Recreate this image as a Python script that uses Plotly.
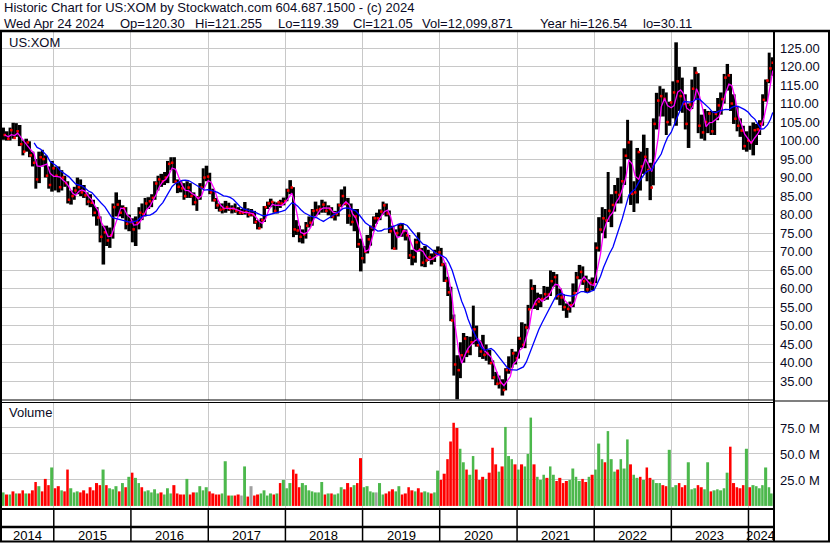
import pandas as pd
import numpy as np
import plotly.graph_objects as go

# ---------------- data (semi-monthly periods, May 2014 - Apr 2024) ----------------
period_start = "2014-05-01"
n_periods = 240
range_end = "2024-04-26"

high = [
    # 2014 (May-Dec)
    103.5, 102.5, 103.5, 104.8, 104.7, 104.2, 100.0, 100.5, 99.8, 97.0, 95.0, 97.0, 97.5, 96.0, 93.0, 94.5,
    # 2015
    93.0, 93.0, 92.0, 90.5, 89.0, 86.5, 87.5, 90.0, 89.5, 88.0, 86.0, 85.5, 84.0, 82.0, 79.5, 77.0, 77.0, 76.5, 83.0, 86.0, 84.0, 82.5, 82.0, 80.0,
    # 2016
    79.0, 79.5, 82.0, 83.0, 84.5, 84.7, 85.5, 89.0, 90.5, 91.0, 91.5, 94.5, 95.5, 95.5, 89.5, 89.0, 88.5, 89.0, 88.5, 86.0, 85.0, 88.5, 92.5, 93.2,
    # 2017
    91.3, 87.0, 84.5, 83.0, 83.0, 83.7, 83.2, 82.5, 83.0, 82.0, 81.5, 83.4, 81.7, 81.5, 81.0, 78.5, 79.0, 82.3, 83.5, 84.3, 83.5, 83.3, 84.0, 84.6,
    # 2018
    87.0, 89.3, 87.4, 78.5, 77.0, 76.0, 78.0, 79.5, 81.5, 83.5, 82.5, 84.0, 83.5, 82.5, 82.0, 81.0, 83.0, 86.8, 87.6, 84.5, 83.0, 81.5, 81.5, 73.5,
    # 2019
    71.5, 74.5, 77.0, 79.5, 80.5, 81.4, 83.5, 83.0, 81.1, 77.0, 76.0, 77.5, 77.7, 76.0, 74.5, 70.5, 73.5, 75.2, 71.0, 71.5, 70.5, 69.5, 70.5, 71.4,
    # 2020
    71.0, 67.0, 63.2, 60.5, 53.0, 42.0, 45.5, 48.0, 47.2, 47.0, 55.4, 50.0, 46.0, 47.5, 44.9, 43.5, 40.6, 37.5, 36.5, 35.5, 38.5, 41.7, 43.7, 43.0,
    # 2021
    47.0, 50.9, 50.5, 55.6, 62.5, 61.0, 58.9, 58.5, 60.7, 60.5, 64.9, 64.5, 63.9, 60.0, 58.5, 56.0, 56.5, 61.4, 64.5, 66.4, 66.0, 63.5, 62.5, 63.0,
    # 2022
    72.5, 79.3, 82.0, 81.5, 91.5, 85.5, 88.0, 89.9, 93.0, 97.9, 105.6, 100.0, 89.0, 98.0, 97.0, 101.6, 98.0, 94.0, 106.0, 112.9, 114.7, 114.0, 113.0, 110.5,
    # 2023
    116.0, 126.54, 119.9, 117.0, 112.5, 110.0, 116.5, 119.9, 118.2, 107.0, 108.5, 108.0, 108.0, 108.0, 111.5, 113.0, 118.0, 120.7, 118.0, 112.5, 109.3, 106.0, 104.0, 102.5,
    # 2024 (Jan-Apr)
    104.0, 104.9, 104.5, 105.5, 112.5, 116.5, 123.75, 122.5,
]

low = [
    100.2, 100.0, 100.0, 100.5, 101.0, 98.5, 96.0, 97.0, 95.5, 93.0, 87.0, 88.5, 93.0, 90.0, 87.0, 86.2,
    86.5, 86.0, 86.5, 87.5, 83.0, 82.7, 84.0, 85.5, 85.0, 84.5, 82.5, 82.0, 79.5, 77.0, 72.5, 66.5, 71.5, 71.0, 73.5, 79.5, 79.5, 79.0, 76.0, 75.5,
    72.5, 71.5, 76.0, 78.5, 79.5, 81.5, 82.0, 84.0, 86.5, 87.5, 88.0, 88.5, 92.0, 88.5, 85.8, 86.0, 84.0, 84.5, 84.5, 82.5, 81.0, 84.0, 87.0, 89.0,
    85.5, 83.5, 81.5, 80.8, 80.3, 80.5, 81.0, 80.3, 80.5, 79.9, 79.9, 80.0, 79.2, 79.5, 77.5, 76.0, 76.3, 78.0, 81.5, 82.0, 80.5, 80.3, 81.8, 82.5,
    83.6, 85.5, 73.9, 74.5, 72.5, 72.2, 73.5, 76.5, 77.0, 79.5, 80.0, 80.5, 80.5, 79.8, 79.0, 78.4, 79.5, 82.0, 82.5, 77.5, 77.0, 75.5, 71.0, 64.65,
    66.8, 69.5, 71.6, 75.5, 77.5, 78.5, 80.0, 79.5, 75.0, 70.6, 70.5, 74.0, 74.0, 73.0, 68.0, 66.3, 67.0, 70.0, 66.0, 65.8, 67.5, 66.5, 67.2, 69.0,
    66.0, 61.8, 58.0, 51.2, 36.5, 30.11, 35.8, 40.0, 41.5, 42.0, 45.0, 44.3, 41.5, 41.0, 40.5, 39.5, 35.5, 33.9, 33.0, 31.1, 32.5, 37.0, 38.6, 39.5,
    41.1, 44.0, 43.9, 49.0, 54.5, 54.5, 54.2, 55.0, 56.7, 57.0, 58.0, 60.5, 57.0, 55.5, 54.0, 52.1, 53.5, 55.0, 59.0, 62.5, 61.0, 59.0, 59.0, 59.5,
    61.5, 70.0, 75.0, 73.6, 78.0, 76.6, 80.8, 83.0, 83.0, 88.0, 95.0, 82.6, 80.7, 83.0, 86.5, 91.0, 89.0, 83.9, 87.9, 103.0, 106.5, 106.5, 101.5, 104.0,
    106.0, 104.0, 108.0, 107.5, 103.0, 98.0, 108.5, 111.0, 102.0, 100.5, 100.0, 102.0, 101.5, 101.5, 105.5, 107.0, 110.0, 113.5, 108.0, 104.5, 102.5, 101.0, 97.5, 97.0,
    97.5, 96.0, 98.8, 101.5, 104.0, 110.5, 115.5, 117.5,
]

close = [
    101.5, 100.5, 102.8, 100.7, 102.5, 99.0, 97.0, 99.5, 96.0, 94.0, 89.5, 95.5, 95.0, 90.5, 88.0, 92.5,
    90.5, 87.4, 90.0, 88.5, 84.0, 85.0, 86.5, 87.4, 86.0, 85.2, 83.5, 83.2, 80.5, 79.2, 74.0, 75.2, 73.0, 74.4, 82.0, 82.7, 80.5, 81.7, 77.5, 77.95,
    76.0, 77.85, 80.5, 80.1, 83.0, 83.6, 84.5, 88.4, 89.5, 89.0, 90.0, 93.7, 94.0, 88.9, 87.5, 87.1, 85.0, 87.3, 85.0, 83.3, 84.5, 87.3, 90.0, 90.26,
    86.0, 83.9, 82.5, 81.3, 81.5, 82.0, 81.5, 81.6, 81.0, 80.5, 80.5, 80.7, 80.0, 80.0, 78.0, 76.3, 78.5, 82.0, 83.0, 83.4, 81.0, 83.3, 83.0, 83.6,
    86.5, 87.3, 76.0, 75.7, 74.0, 74.6, 77.0, 77.8, 81.0, 81.2, 81.5, 82.7, 81.0, 81.5, 79.5, 80.2, 82.5, 85.0, 83.0, 79.7, 78.0, 79.5, 72.0, 68.2,
    70.0, 73.3, 76.5, 79.0, 79.0, 80.8, 82.5, 80.3, 75.5, 70.8, 75.0, 76.6, 75.5, 74.4, 69.0, 68.5, 72.5, 70.6, 67.0, 67.6, 68.5, 68.1, 69.5, 69.8,
    66.5, 62.1, 59.0, 51.4, 39.5, 37.97, 42.0, 46.5, 43.0, 45.5, 49.0, 44.7, 43.0, 42.1, 42.5, 39.9, 36.0, 34.3, 34.5, 32.6, 38.0, 38.1, 42.5, 41.2,
    46.5, 44.8, 49.5, 54.4, 60.0, 55.8, 56.5, 57.2, 58.5, 58.4, 62.0, 63.1, 58.0, 57.6, 55.0, 54.5, 55.5, 58.8, 63.0, 64.5, 62.0, 59.8, 61.5, 61.2,
    71.0, 75.96, 79.0, 78.4, 81.0, 82.6, 86.0, 85.3, 89.0, 95.9, 99.5, 85.6, 86.0, 96.9, 93.0, 95.6, 92.0, 87.3, 104.5, 110.8, 112.0, 111.3, 105.0, 110.3,
    113.0, 116.0, 112.0, 109.9, 104.5, 109.7, 114.0, 118.3, 104.0, 102.2, 105.0, 107.3, 102.5, 107.2, 109.5, 111.2, 117.0, 117.6, 110.0, 105.9, 104.0, 102.7, 98.5, 100.0,
    99.5, 102.8, 103.0, 104.5, 111.0, 116.2, 119.5, 121.05,
]

volume_m = [
    13, 11, 11, 14, 12, 12, 15, 12, 12, 15, 23, 19, 14, 26, 20, 37,
    17, 19, 15, 14, 35, 17, 13, 14, 13, 15, 12, 18, 15, 22, 20, 35, 20, 17, 16, 19, 14, 22, 18, 28,
    32, 27, 22, 18, 14, 15, 13, 16, 12, 13, 11, 17, 12, 20, 12, 11, 11, 26, 11, 13, 13, 19, 15, 18,
    14, 12, 11, 11, 12, 43, 10, 10, 10, 11, 10, 38, 9, 19, 10, 11, 12, 15, 10, 12, 11, 12, 22, 25,
    17, 22, 35, 31, 18, 22, 20, 15, 14, 13, 13, 23, 11, 12, 12, 11, 12, 18, 16, 22, 18, 20, 22, 46,
    18, 19, 14, 13, 13, 22, 11, 12, 14, 16, 14, 19, 11, 12, 18, 15, 14, 17, 13, 14, 13, 12, 13, 34,
    25, 31, 45, 62, 80, 75, 55, 42, 35, 30, 48, 35, 25, 28, 26, 32, 56, 40, 33, 38, 76, 48, 45, 40,
    35, 40, 38, 50, 85, 40, 28, 25, 30, 27, 38, 30, 24, 27, 22, 24, 25, 36, 28, 24, 26, 23, 28, 30,
    35, 60, 45, 42, 72, 45, 33, 35, 45, 36, 64, 40, 30, 27, 28, 25, 37, 27, 25, 22, 22, 20, 19, 54,
    18, 20, 22, 18, 20, 42, 16, 17, 20, 18, 16, 42, 14, 15, 16, 15, 17, 32, 57, 22, 18, 17, 20, 55,
    18, 20, 19, 17, 20, 37, 18, 12,
]

price_ticks = [35, 40, 45, 50, 55, 60, 65, 70, 75, 80, 85, 90, 95, 100, 105, 110, 115, 120, 125]
volume_ticks_m = [25, 50, 75]
years = list(range(2014, 2025))

header_1 = "Historic Chart for US:XOM by Stockwatch.com 604.687.1500 - (c) 2024"
header_2 = ["Wed Apr 24 2024", "Op=120.30", "Hi=121.255", "Lo=119.39", "Cl=121.05",
            "Vol=12,099,871", "Year hi=126.54", "lo=30.11"]

# ---------------- derived ----------------
W, H = 830, 543
def px(x):
    return x / W
def py(y):
    return 1 - y / H

dates = pd.date_range(period_start, periods=n_periods, freq="SMS")
rng_end = pd.Timestamp(range_end)
ends = list(dates[1:]) + [rng_end]
width_ms = [(e - s).total_seconds() * 1000 for s, e in zip(dates, ends)]
end_x = [e - pd.Timedelta(days=1) for e in ends]

hi = np.array(high)
lo = np.array(low)
cl = pd.Series(close)
vol = np.array(volume_m) * 1e6

ma_fast = cl.rolling(3, min_periods=1).mean()     # ~20-day average
ma_slow = cl.rolling(10, min_periods=10).mean()   # ~100-day average

diff = cl.diff().fillna(1.0)
vcolors = ["#4cb84c" if d > 0 else ("#ff0000" if d < 0 else "#a0a0a0") for d in diff]

FONT = "Liberation Sans, Arial, sans-serif"
TXT = "#0a0a24"
GRID = "#c8c8c8"

fig = go.Figure()
fig.add_trace(go.Bar(x=dates, y=hi - lo, base=lo, width=width_ms, offset=0,
                     marker=dict(color="black", line=dict(width=0)),
                     xaxis="x", yaxis="y", hoverinfo="skip"))
fig.add_trace(go.Scatter(x=end_x, y=cl, mode="markers",
                         marker=dict(symbol="square", size=2.5, color="#ff0000", line=dict(width=0)),
                         xaxis="x", yaxis="y", hoverinfo="skip"))
fig.add_trace(go.Scatter(x=end_x, y=ma_fast, mode="lines",
                         line=dict(color="#ff00ff", width=1.3),
                         xaxis="x", yaxis="y", hoverinfo="skip"))
fig.add_trace(go.Scatter(x=end_x, y=ma_slow, mode="lines",
                         line=dict(color="#0000ff", width=1.3),
                         xaxis="x", yaxis="y", hoverinfo="skip"))
fig.add_trace(go.Bar(x=dates, y=vol, width=[w * 0.85 for w in width_ms], offset=0,
                     marker=dict(color=vcolors, line=dict(width=0)),
                     xaxis="x2", yaxis="y2", hoverinfo="skip"))

year_starts = [pd.Timestamp(f"{y}-01-01") for y in years[1:]]
x_common = dict(type="date", range=[dates[0], rng_end], domain=[px(2), px(773)],
                tickvals=year_starts, showticklabels=False, ticks="",
                showgrid=True, gridcolor=GRID, gridwidth=1, zeroline=False, showline=False)

fig.update_layout(
    width=W, height=H, margin=dict(l=0, r=0, t=0, b=0),
    paper_bgcolor="white", plot_bgcolor="white", showlegend=False,
    font=dict(family=FONT, size=13, color=TXT),
    xaxis=dict(anchor="y", **x_common),
    xaxis2=dict(anchor="y2", matches="x", **x_common),
    yaxis=dict(domain=[py(400), py(31)], range=[29.9, 129.6], side="right",
               tickvals=price_ticks, ticktext=[f"{v:.2f}" for v in price_ticks],
               ticks="", ticklabelstandoff=6, showgrid=True, gridcolor=GRID, gridwidth=1,
               zeroline=False, showline=False, tickfont=dict(size=13, color=TXT)),
    yaxis2=dict(domain=[py(508), py(402)], range=[-2e6, 100e6], side="right",
                tickvals=[v * 1e6 for v in volume_ticks_m],
                ticktext=[f"{v:.1f} M" for v in volume_ticks_m],
                ticks="", ticklabelstandoff=6, showgrid=True, gridcolor=GRID, gridwidth=1,
                zeroline=False, showline=False, tickfont=dict(size=13, color=TXT)),
)

# frame lines
def hline(y, x0, x1, w):
    fig.add_shape(type="line", xref="paper", yref="paper", x0=px(x0), x1=px(x1),
                  y0=py(y), y1=py(y), line=dict(color="black", width=w), layer="above")
def vline(x, y0, y1, w):
    fig.add_shape(type="line", xref="paper", yref="paper", x0=px(x), x1=px(x),
                  y0=py(y0), y1=py(y1), line=dict(color="black", width=w), layer="above")

hline(31, 0, 830, 2.5)
vline(1, 31, 542, 2)
vline(774, 31, 542, 2)
vline(829, 31, 542, 2)
hline(400, 0, 774, 1.2)
hline(402.5, 0, 774, 1.2)
hline(401, 774, 830, 1.2)
hline(509, 0, 774, 2)
hline(527, 0, 774, 2.5)
hline(541.5, 0, 830, 2)

for ys in year_starts:
    fig.add_shape(type="line", xref="x", yref="paper", x0=ys, x1=ys,
                  y0=py(542), y1=py(509), line=dict(color="black", width=1.5), layer="above")

# year labels centred in visible span of each year
for y in years:
    a = max(pd.Timestamp(f"{y}-01-01"), dates[0])
    b = min(pd.Timestamp(f"{y + 1}-01-01"), rng_end)
    mid = a + (b - a) / 2
    fig.add_annotation(x=mid, y=py(535), xref="x", yref="paper", text=str(y),
                       showarrow=False, xanchor="center", yanchor="middle",
                       font=dict(size=13, color="black"))

# header & panel labels
fig.add_annotation(x=px(2), y=py(8), xref="paper", yref="paper", text=header_1,
                   showarrow=False, xanchor="left", yanchor="middle", font=dict(size=13, color=TXT))
h2_x = [2, 118, 193, 276, 351, 420, 538, 641]
for t, xx in zip(header_2, h2_x):
    fig.add_annotation(x=px(xx), y=py(23), xref="paper", yref="paper", text=t,
                       showarrow=False, xanchor="left", yanchor="middle", font=dict(size=13, color=TXT))
fig.add_annotation(x=px(7), y=py(42), xref="paper", yref="paper", text="US:XOM",
                   showarrow=False, xanchor="left", yanchor="middle", font=dict(size=13, color=TXT))
fig.add_annotation(x=px(7), y=py(413), xref="paper", yref="paper", text="Volume",
                   showarrow=False, xanchor="left", yanchor="middle", font=dict(size=13, color=TXT))

fig.write_html("out.html", config={"displayModeBar": False},
               post_script="document.body.style.margin='0px';document.body.style.overflow='hidden';")
